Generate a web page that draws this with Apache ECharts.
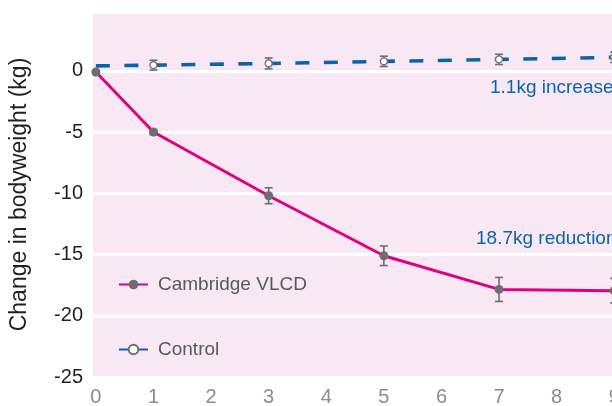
<!DOCTYPE html>
<html>
<head>
<meta charset="utf-8">
<script src="https://cdn.jsdelivr.net/npm/echarts@6/dist/echarts.min.js"></script>
<style>
  html, body { margin: 0; padding: 0; background: #ffffff; }
  #chart { width: 612px; height: 406px; }
</style>
</head>
<body>
<div id="chart"></div>
<script>
// Weeks of follow-up and mean change in bodyweight (kg)
const weeks = [0, 1, 3, 5, 7, 9];
const vlcdMean = [-0.1, -5.0, -10.2, -15.1, -17.85, -17.95];
const vlcdErr = [0, 0.2, 0.65, 0.8, 0.98, 1.0];
const controlMean = [0.4, 0.46, 0.6, 0.77, 0.93, 1.1];
const controlErr = [0, 0.4, 0.45, 0.42, 0.42, 0.42];
const xTickLabels = [0, 1, 2, 3, 4, 5, 6, 7, 8, 9, 10, 11, 12];
const yTickLabels = [-25, -20, -15, -10, -5, 0];
const seriesNames = ['Cambridge VLCD', 'Control'];

const FONT = '"Liberation Sans", Arial, Helvetica, sans-serif';
const MAGENTA = '#e3007c';
const BLUE = '#0a64ad';
const GREY = '#6d6e71';

const pairs = (xs, ys) => xs.map((x, i) => [x, ys[i]]);
const errRows = (xs, ys, es) => xs.map((x, i) => [x, ys[i] - es[i], ys[i] + es[i]]).filter((r, i) => es[i] > 0);

// Vertical error bar with caps, positioned through the cartesian scales
function errorBar(params, api) {
  const x = api.value(0);
  const lo = api.coord([x, api.value(1)]);
  const hi = api.coord([x, api.value(2)]);
  const cap = 4;
  const style = { stroke: GREY, lineWidth: 1.6 };
  return {
    type: 'group',
    children: [
      { type: 'line', shape: { x1: lo[0], y1: lo[1], x2: hi[0], y2: hi[1] }, style },
      { type: 'line', shape: { x1: lo[0] - cap, y1: lo[1], x2: lo[0] + cap, y2: lo[1] }, style },
      { type: 'line', shape: { x1: hi[0] - cap, y1: hi[1], x2: hi[0] + cap, y2: hi[1] }, style }
    ]
  };
}

const controlData = pairs(weeks, controlMean).map((p, i) =>
  i === 0 ? { value: p, symbol: 'none' } : p);

const chart = echarts.init(document.getElementById('chart'), null, { renderer: 'canvas' });
chart.setOption({
  animation: false,
  backgroundColor: '#ffffff',
  textStyle: { fontFamily: FONT },
  grid: {
    left: 93, top: 12, width: 694, height: 365,
    outerBoundsMode: 'none', containLabel: false,
    show: true, backgroundColor: '#f8e8f3', borderWidth: 0
  },
  xAxis: {
    type: 'value',
    min: -0.05, max: 12,
    axisLine: { show: false },
    axisTick: { show: false },
    splitLine: { show: false },
    axisLabel: {
      customValues: xTickLabels,
      color: '#8c8c8c', fontSize: 20, fontFamily: FONT, margin: 10
    }
  },
  yAxis: {
    type: 'value',
    min: -25, max: 4.8, interval: 5,
    name: 'Change in bodyweight (kg)',
    nameLocation: 'middle',
    nameGap: 62,
    nameTextStyle: { color: '#231f20', fontSize: 23, fontFamily: FONT },
    axisLine: { show: false },
    axisTick: { show: false },
    splitLine: { show: true, lineStyle: { color: '#ffffff', width: 3 } },
    axisLabel: {
      color: '#231f20', fontSize: 20, fontFamily: FONT, margin: 10,
      formatter: v => (yTickLabels.indexOf(v) >= 0 ? String(v) : '')
    }
  },
  legend: {
    orient: 'vertical',
    left: 113, top: 270,
    itemWidth: 29, itemHeight: 12, itemGap: 46,
    textStyle: { color: '#58595b', fontSize: 19, fontFamily: FONT, padding: [0, 0, 0, 5] },
    data: [
      { name: seriesNames[0] },
      { name: seriesNames[1], lineStyle: { type: 'solid' } }
    ]
  },
  graphic: [
    { type: 'text', left: 490, top: 78, z: 10,
      style: { text: '1.1kg increase', fill: BLUE, font: '19px ' + FONT } },
    { type: 'text', left: 476, top: 229, z: 10,
      style: { text: '18.7kg reduction', fill: BLUE, font: '19px ' + FONT } }
  ],
  series: [
    {
      type: 'custom', name: 'vlcd-err', coordinateSystem: 'cartesian2d',
      renderItem: errorBar, data: errRows(weeks, vlcdMean, vlcdErr), z: 2, silent: true
    },
    {
      type: 'custom', name: 'control-err', coordinateSystem: 'cartesian2d',
      renderItem: errorBar, data: errRows(weeks, controlMean, controlErr), z: 2, silent: true
    },
    {
      name: seriesNames[0], type: 'line', z: 3,
      data: pairs(weeks, vlcdMean),
      symbol: 'circle', symbolSize: 9, showAllSymbol: true,
      lineStyle: { color: MAGENTA, width: 3 },
      itemStyle: { color: GREY, borderWidth: 0 }
    },
    {
      name: seriesNames[1], type: 'line', z: 3,
      data: controlData,
      symbol: 'circle', symbolSize: 7, showAllSymbol: true,
      lineStyle: { color: BLUE, width: 3.6, type: [14, 14.5] },
      itemStyle: { color: '#ffffff', borderColor: GREY, borderWidth: 1.3 }
    }
  ]
});
</script>
</body>
</html>
